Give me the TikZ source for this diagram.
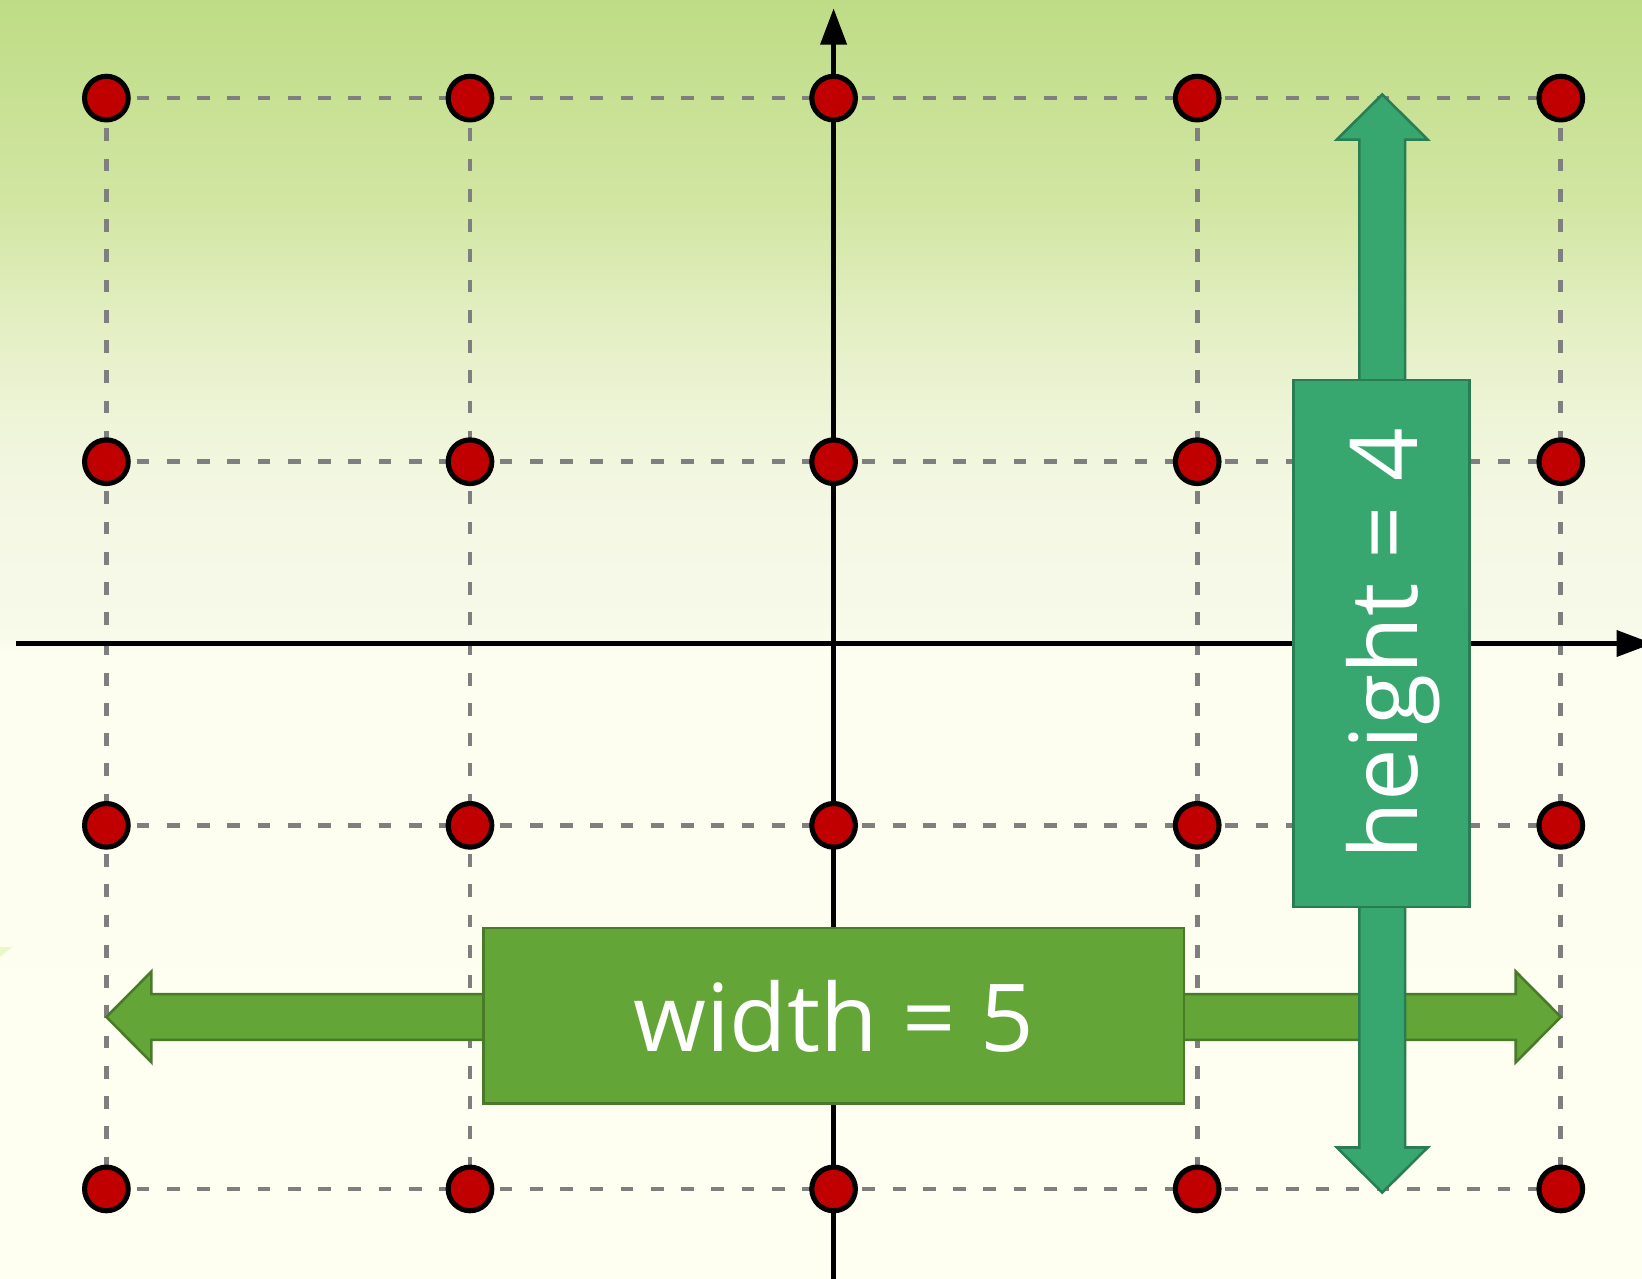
\documentclass[tikz,border=0pt]{standalone}
\usepackage{fontspec}
\newfontfamily\labelfont{Open Sans}
\usepackage{xcolor}
\usetikzlibrary{arrows.meta}

\definecolor{dotred}{HTML}{C00000}
\definecolor{gridgray}{HTML}{7F7F7F}
\definecolor{wgreen}{HTML}{63A537}
\definecolor{wgreenline}{HTML}{487A2A}
\definecolor{hteal}{HTML}{38A76F}
\definecolor{htealline}{HTML}{2A7C52}
\definecolor{bgsliver}{HTML}{EAF8C8}
\definecolor{bgc0}{HTML}{FEFFF0}
\definecolor{bgc1}{HTML}{FDFEF0}
\definecolor{bgc2}{HTML}{F8FAEA}
\definecolor{bgc3}{HTML}{F3F7E2}
\definecolor{bgc4}{HTML}{EDF4D6}
\definecolor{bgc5}{HTML}{E4EFC4}
\definecolor{bgc6}{HTML}{D2E6A3}
\definecolor{bgc7}{HTML}{BEDC85}
\pgfdeclareverticalshading{bgfade}{100bp}{color(0bp)=(bgc0); color(25bp)=(bgc0);
  color(49.5bp)=(bgc1); color(50.1bp)=(bgc2); color(55.9bp)=(bgc3); color(59bp)=(bgc4);
  color(62.2bp)=(bgc5); color(67bp)=(bgc6); color(75bp)=(bgc7); color(100bp)=(bgc7)}

\begin{document}
\begin{tikzpicture}[x=3cm, y=3cm,
  gridline/.style={draw=gridgray, line width=1.1pt, dash pattern=on 3pt off 4.1pt},
  axisline/.style={line width=1.2pt, -{Triangle[length=8.5pt, width=6pt]}},
  dot/.style={circle, draw, line width=1.2pt, fill=dotred, minimum size=0.36cm, inner sep=0pt},
  warr/.style={fill=wgreen, draw=wgreenline, line width=0.6pt},
  harr/.style={fill=hteal, draw=htealline, line width=0.6pt},
  lbl/.style={text=white, font=\labelfont\fontsize{22}{26}\selectfont, inner sep=0pt},
  wbox/.style={lbl, warr, minimum width=5.78cm, minimum height=1.45cm},
  hbox/.style={lbl, harr, minimum width=4.35cm, minimum height=1.45cm}
]
  \useasboundingbox (-2.2926,-1.7451) rectangle (2.2233,1.7698);
  \shade[shading=bgfade] (-2.2926,-1.7451) rectangle (2.2233,1.7698);
  \fill[bgsliver] (-2.2926,-0.8347) -- (-2.2596,-0.8347) -- (-2.2926,-0.8622) -- cycle;

  \foreach \c in {1,...,5}
    \foreach \r in {1,...,4}
      \coordinate (g\c\r) at (\c-3, 2.5-\r);

  \foreach \r in {1,...,4}
    \draw[gridline] (g1\r) -- (g5\r);
  \foreach \c in {1,2,4,5}
    \draw[gridline] (g\c1) -- (g\c4);

  \coordinate (xs) at (-2.249,0);
  \coordinate (xe) at (2.253,0);
  \coordinate (ys) at (0,-1.80);
  \coordinate (ye) at (0,1.747);
  \draw[axisline] (xs) -- (xe);
  \draw[axisline] (ys) -- (ye);

  \foreach \c in {1,...,5}
    \foreach \r in {1,...,4}
      \node[dot] (d\c\r) at (g\c\r) {};

  \begin{scope}[shift={(0,-1.027)}]
    \filldraw[warr] (-2,0) -- (-1.876,0.125) -- (-1.876,0.063) -- (1.876,0.063)
      -- (1.876,0.125) -- (2,0) -- (1.876,-0.125) -- (1.876,-0.063)
      -- (-1.876,-0.063) -- (-1.876,-0.125) -- cycle;
  \end{scope}
  \node[wbox] (wlabel) at (0,-1.024) {width = 5};

  \begin{scope}[shift={(1.509,0)}]
    \filldraw[harr] (0,1.51) -- (0.125,1.386) -- (0.063,1.386) -- (0.063,-1.386)
      -- (0.125,-1.386) -- (0,-1.51) -- (-0.125,-1.386) -- (-0.063,-1.386)
      -- (-0.063,1.386) -- (-0.125,1.386) -- cycle;
  \end{scope}
  \node[hbox, rotate=90, text depth=0pt] (hlabel) at (1.507,0) {height = 4};
\end{tikzpicture}
\end{document}
